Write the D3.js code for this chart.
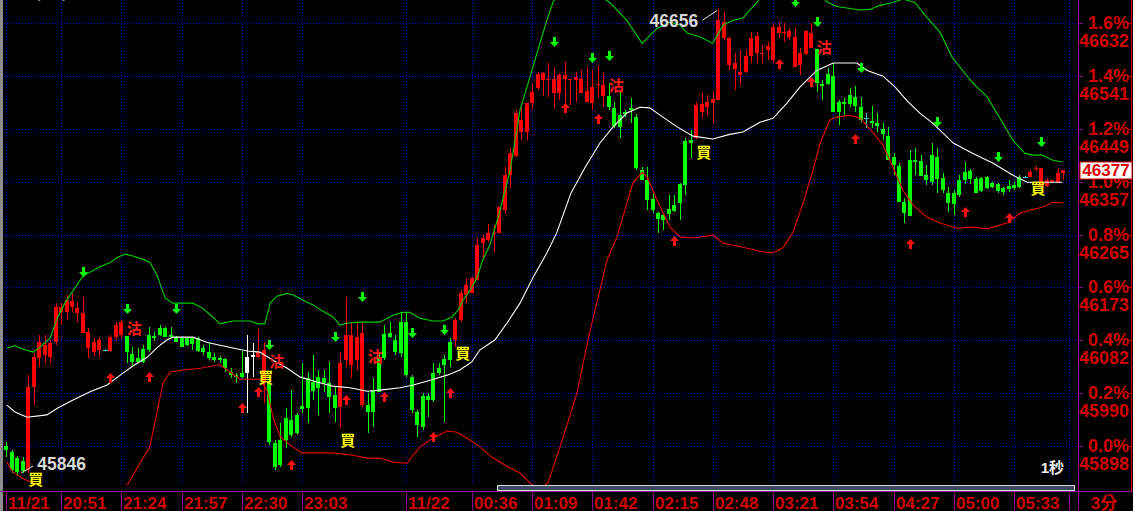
<!DOCTYPE html>
<html><head><meta charset="utf-8">
<script src="https://cdn.jsdelivr.net/npm/d3@7/dist/d3.min.js"></script>
<style>html,body{margin:0;padding:0;background:#000;overflow:hidden}svg{display:block}</style>
</head><body><svg id="c" width="1133" height="511"></svg>
<script>
const basePrice = 45898;
// bars 1..194 (3-minute bars)
const opens = [
45898,45888,45877,45872,45856,46000,46051,46056,46052,46079,
46131,46131,46139,46129,46094,46068,46061,46065,46065,46063,
46087,46091,46089,46058,46051,46066,46091,46089,46103,46103,
46091,46087,46085,46085,46085,46085,46068,46061,46052,46051,
46049,46026,46021,46025,46025,46052,46052,46007,46007,45903,
45908,45947,45943,45952,45968,46016,46009,46018,46016,46007,
45987,45966,46047,46039,46047,45969,45969,45995,46051,46092,
46094,46082,46113,46113,46018,45957,45985,45985,46025,46033,
46049,46079,46082,46117,46160,46164,46186,46250,46256,46266,
46268,46308,46368,46401,46443,46443,46493,46519,46533,46533,
46511,46511,46535,46533,46533,46511,46495,46493,46525,46505,
46505,46485,46472,46478,46485,46469,46377,46360,46327,46302,
46299,46309,46316,46353,46427,46429,46432,46478,46486,46493,
46498,46606,46559,46552,46542,46547,46575,46580,46578,46585,
46568,46615,46615,46608,46556,46559,46578,46589,46587,46526,
46544,46540,46495,46495,46507,46504,46486,46467,46462,46459,
46448,46436,46400,46384,46321,46394,46394,46393,46368,46403,
46400,46363,46337,46337,46360,46374,46375,46361,46363,46365,
46354,46353,46346,46349,46351,46365,46365,46365,46379,46347,
46349,46356,46356,46372];
const highs = [
45905,45891,45881,45879,46021,46059,46091,46091,46082,46146,
46146,46160,46164,46148,46157,46103,46085,46087,46066,46091,
46113,46117,46089,46070,46068,46073,46105,46096,46108,46105,
46105,46089,46087,46087,46087,46087,46073,46077,46059,46054,
46051,46033,46025,46063,46091,46077,46101,46079,46013,45908,
45938,45964,45995,45955,46042,46026,46056,46030,46030,46044,
46000,46061,46157,46111,46113,46113,45990,46016,46061,46108,
46113,46091,46129,46129,46021,45961,45990,45990,46042,46042,
46056,46085,46120,46169,46190,46191,46259,46264,46283,46282,
46313,46382,46415,46481,46485,46493,46528,46547,46547,46563,
46554,46545,46564,46535,46547,46551,46556,46551,46559,46545,
46528,46495,46512,46481,46502,46474,46382,46382,46337,46304,
46302,46334,46334,46354,46432,46446,46495,46511,46507,46512,
46656,46651,46608,46580,46585,46585,46616,46616,46594,46599,
46632,46634,46632,46623,46623,46589,46620,46632,46587,46533,
46554,46563,46498,46502,46519,46523,46504,46476,46488,46476,
46459,46452,46406,46389,46328,46412,46415,46403,46386,46424,
46415,46372,46347,46342,46368,46391,46379,46365,46365,46367,
46356,46354,46347,46360,46356,46368,46367,46377,46384,46380,
46363,46360,46380,46377];
const lows = [
45879,45851,45846,45851,45851,45969,46035,46042,46042,46073,
46108,46117,46131,46113,46094,46051,46054,46052,46063,46061,
46082,46085,46042,46039,46042,46042,46061,46080,46089,46087,
46085,46079,46070,46072,46065,46061,46056,46047,46044,46042,
46026,46016,46007,46016,45955,46018,46051,45973,45900,45856,
45862,45895,45914,45917,45955,45938,45978,45952,45992,45955,
45940,45931,46035,46016,46030,45966,45921,45931,45992,46047,
46085,46056,46052,46018,45955,45914,45926,45948,45974,46021,
45940,46035,46070,46113,46146,46164,46186,46224,46252,46235,
46268,46302,46346,46400,46429,46429,46481,46516,46505,46504,
46485,46498,46485,46490,46495,46511,46495,46481,46504,46486,
46481,46450,46432,46469,46459,46377,46360,46308,46302,46268,
46273,46290,46304,46290,46334,46398,46431,46467,46472,46459,
46498,46603,46550,46516,46525,46545,46563,46563,46563,46568,
46563,46606,46599,46603,46556,46542,46577,46589,46512,46498,
46525,46478,46455,46472,46486,46478,46460,46450,46450,46443,
46429,46394,46368,46321,46285,46297,46368,46367,46351,46351,
46337,46337,46304,46299,46330,46353,46353,46337,46339,46344,
46346,46337,46334,46339,46342,46346,46363,46365,46375,46347,
46347,46356,46354,46360];
const closes = [
45891,45856,45853,45855,46000,46052,46079,46073,46077,46139,
46139,46151,46150,46138,46129,46096,46079,46082,46065,46087,
46108,46113,46061,46044,46044,46044,46065,46085,46091,46087,
46087,46079,46070,46073,46075,46063,46061,46051,46047,46047,
46033,46021,46018,46018,46052,46056,46061,46065,45905,45862,
45865,45908,45917,45921,45962,45964,45994,45999,46007,45983,
45964,46042,46091,46091,46087,46094,45957,45957,45992,46051,
46087,46061,46059,46021,45961,45934,45931,45978,45978,46025,
46039,46047,46117,46164,46177,46190,46247,46259,46268,46268,
46313,46368,46406,46476,46464,46493,46512,46544,46545,46535,
46535,46542,46542,46535,46538,46535,46514,46521,46526,46525,
46486,46453,46452,46474,46481,46380,46360,46325,46308,46292,
46290,46301,46306,46320,46351,46424,46490,46491,46495,46500,
46637,46634,46606,46563,46547,46575,46606,46610,46580,46592,
46625,46625,46616,46618,46608,46580,46618,46615,46528,46523,
46526,46478,46478,46491,46491,46488,46464,46467,46459,46453,
46439,46394,46386,46321,46302,46297,46391,46367,46360,46356,
46361,46342,46320,46318,46334,46360,46361,46337,46341,46346,
46347,46341,46339,46344,46346,46347,46365,46374,46380,46380,
46360,46360,46372,46377];
const whiteBars = [45, 46];

// Bollinger bands: [bar position, price]
const upperBand = [[1.1,46068],[2.6,46072],[4.4,46065],[5.9,46061],[7.2,46070],[9.0,46085],[10.3,46120],[11.7,46146],[13.0,46165],[15.0,46193],[18.1,46209],[19.9,46216],[21.4,46226],[22.7,46231],[24.1,46228],[26.0,46222],[27.2,46217],[28.5,46195],[30.0,46155],[31.4,46146],[35.1,46146],[36.9,46137],[38.7,46122],[40.0,46110],[42.4,46115],[45.5,46115],[47.0,46110],[48.2,46110],[49.2,46146],[50.4,46158],[52.3,46163],[53.4,46160],[55.2,46151],[57.0,46143],[58.8,46132],[60.7,46122],[61.9,46108],[63.2,46111],[65.2,46113],[69.2,46113],[71.6,46125],[73.3,46130],[74.7,46130],[76.5,46120],[78.9,46115],[80.7,46115],[82.4,46122],[83.5,46134],[84.4,46151],[85.7,46169],[87.0,46191],[88.0,46221],[89.3,46247],[90.8,46295],[92.1,46342],[93.0,46377],[94.8,46481],[96.6,46538],[97.9,46580],[99.7,46637],[100.8,46668],[102.1,46689],[104.8,46700],[107.6,46689],[111.2,46668],[114.3,46637],[117.1,46597],[119.8,46623],[122.2,46634],[124.0,46629],[125.3,46615],[127.7,46608],[130.0,46597],[131.9,46629],[133.7,46637],[135.5,46641],[136.8,46655],[138.1,46668],[139.5,46689],[141.4,46705],[144.1,46733],[145.9,46720],[148.3,46703],[149.6,46682],[151.0,46668],[152.7,46661],[156.9,46655],[158.7,46656],[160.5,46663],[162.9,46668],[164.7,46674],[166.9,46668],[169.1,46642],[171.5,46616],[173.7,46573],[175.1,46556],[177.5,46528],[180.1,46504],[183.0,46458],[184.8,46429],[187.0,46406],[188.5,46403],[190.1,46403],[192.1,46394],[193.9,46391]];
const midBand = [[1.1,45969],[2.6,45957],[4.8,45948],[8.4,45952],[10.4,45964],[13.2,45978],[16.3,45992],[19.4,46004],[21.8,46021],[24.1,46037],[26.7,46052],[28.7,46070],[30.3,46082],[31.4,46087],[35.1,46087],[37.6,46078],[40.0,46073],[42.4,46068],[45.0,46063],[47.3,46061],[49.7,46047],[52.3,46033],[54.6,46018],[57.7,46009],[60.6,46002],[63.8,45999],[66.9,45993],[69.2,45995],[72.9,45999],[75.3,46004],[78.4,46012],[81.5,46021],[83.8,46030],[86.0,46044],[87.5,46065],[90.2,46082],[92.4,46111],[94.8,46146],[97.2,46191],[99.7,46233],[101.5,46268],[104.1,46337],[106.7,46382],[109.4,46424],[111.8,46452],[114.3,46476],[116.7,46486],[118.5,46485],[120.9,46469],[123.5,46452],[126.4,46436],[130.0,46431],[133.1,46439],[135.5,46443],[138.6,46460],[141.0,46467],[143.5,46493],[145.9,46521],[149.0,46550],[152.0,46563],[156.3,46563],[158.2,46550],[161.1,46540],[163.3,46521],[165.4,46498],[167.8,46476],[170.2,46458],[173.9,46424],[177.5,46406],[181.2,46389],[184.8,46368],[187.4,46356],[189.7,46356],[193.8,46356]];
const lowerBand = [[1.1,45870],[2.2,45853],[4.1,45841],[7.2,45829],[10.8,45806],[14.5,45783],[18.1,45789],[20.9,45810],[23.2,45832],[25.4,45868],[27.2,45896],[28.5,45955],[29.6,46007],[30.9,46026],[33.3,46030],[36.4,46033],[40.0,46039],[41.9,46026],[43.7,46014],[47.3,46014],[48.6,45995],[49.7,45948],[51.0,45914],[52.8,45900],[55.0,45886],[60.6,45886],[64.3,45882],[66.9,45877],[69.2,45877],[71.6,45870],[74.2,45868],[75.3,45882],[76.5,45896],[78.9,45912],[81.5,45924],[83.3,45922],[85.1,45912],[87.5,45896],[89.9,45877],[92.4,45863],[94.8,45851],[96.6,45834],[98.1,45822],[99.9,45834],[102.1,45896],[105.2,45990],[107.2,46082],[110.7,46221],[112.5,46261],[115.4,46354],[117.1,46373],[118.0,46365],[119.8,46325],[122.2,46278],[124.0,46261],[126.4,46259],[130.0,46264],[131.9,46250],[135.5,46243],[138.6,46236],[141.0,46233],[142.8,46242],[144.6,46268],[146.5,46320],[148.3,46377],[149.6,46424],[151.4,46464],[152.7,46469],[155.0,46472],[156.9,46467],[159.2,46443],[161.1,46420],[162.9,46382],[164.7,46342],[166.6,46316],[169.1,46295],[171.5,46285],[174.6,46276],[177.5,46278],[180.1,46275],[183.7,46285],[186.1,46302],[188.5,46309],[190.3,46313],[192.1,46321],[194.0,46320]];

const timeTickBars = [1,11,22,33,44,55,74,86,97,108,119,130,141,152,163,174,185,195];
const timeTickLabels = ["11/21","20:51","21:24","21:57","22:30","23:03","11/22","00:36","01:09","01:42","02:15","02:48","03:21","03:54","04:27","05:00","05:33",""];
const pctTicks = [0,0.2,0.4,0.6,0.8,1.0,1.2,1.4,1.6];

// signals: [bar, price of arrow tip]
const sellArrows = [[15,46191],[23,46127],[32,46127],[49,46065],[61,46079],[66,46148],[75,46085],[81,46091],[101,46590],[108,46563],[111,46566],[145,46660],[149,46625],[157,46545],[171,46452],[182,46391],[190,46417]];
const buyArrows = [[20,46025],[27,46026],[44,45973],[47,46000],[53,45874],[63,45987],[70,45992],[79,45922],[82,45999],[103,46493],[109,46474],[123,46262],[142,46570],[148,46538],[156,46439],[166,46257],[176,46313],[184,46302]];
const buyMarks = [[6,45841],[48,46018],[63,45910],[84,46061],[128,46410],[189,46346]];
const sellMarks = [[24,46104],[50,46046],[68,46055],[112,46526],[150,46591]];
const lastPrice = 46377;
const periodLabel = "3分";
const tickLabel = "1秒";

const svg = d3.select('#c');
svg.append('rect').attr('width',1133).attr('height',511).attr('fill','#000');
const x = d3.scaleLinear().domain([0,194]).range([0.8,1063.3]);
const y = d3.scaleLinear().domain([basePrice, basePrice*1.016]).range([446,23]);

svg.append('defs').append('clipPath').attr('id','plot')
  .append('rect').attr('x',4).attr('y',0).attr('width',1074).attr('height',485);

// grid
const grid = svg.append('g').attr('shape-rendering','crispEdges');
pctTicks.forEach(p=>{
  const yy = Math.round(y(basePrice*(1+p/100)))+0.5;
  grid.append('line').attr('x1',4).attr('x2',1078).attr('y1',yy).attr('y2',yy)
    .attr('stroke','#0000d8').attr('stroke-dasharray','1,2');
});
timeTickBars.forEach(b=>{
  const xx = Math.round(x(b))+0.5;
  grid.append('line').attr('x1',xx).attr('x2',xx).attr('y1',0).attr('y2',485)
    .attr('stroke','#0000d8').attr('stroke-dasharray','1,2');
});

const plot = svg.append('g').attr('clip-path','url(#plot)');

// candles
const bars = d3.range(1,195).map(i=>({i,o:opens[i-1],h:highs[i-1],l:lows[i-1],c:closes[i-1]}));
const colorOf = d => whiteBars.includes(d.i) ? '#ffffff' : d.c>d.o ? '#ff0000' : d.c<d.o ? '#00ff00' : '#40d0c0';
const cg = plot.append('g').attr('shape-rendering','crispEdges');
cg.selectAll('line.w').data(bars).join('line').attr('class','w')
  .attr('x1',d=>Math.round(x(d.i))+0.5).attr('x2',d=>Math.round(x(d.i))+0.5)
  .attr('y1',d=>y(d.h)).attr('y2',d=>y(d.l)).attr('stroke',colorOf);
cg.selectAll('rect.b').data(bars).join('rect').attr('class','b')
  .attr('x',d=>Math.round(x(d.i))-2).attr('width',d=>d.o===d.c?5:4)
  .attr('y',d=>Math.min(y(d.o),y(d.c)))
  .attr('height',d=>Math.max(1,Math.abs(y(d.o)-y(d.c))))
  .attr('fill',colorOf);

// bands
const line = d3.line().x(d=>x(d[0])).y(d=>y(d[1]));
plot.append('path').attr('d',line(upperBand)).attr('fill','none').attr('stroke','#00d000').attr('stroke-width',1.1);
plot.append('path').attr('d',line(midBand)).attr('fill','none').attr('stroke','#ffffff').attr('stroke-width',1.1);
plot.append('path').attr('d',line(lowerBand)).attr('fill','none').attr('stroke','#e80000').attr('stroke-width',1.1);

// arrows
const ag = plot.append('g');
sellArrows.forEach(([b,p])=>{
  const cx = Math.round(x(b))+0.5, t = Math.round(y(p));
  ag.append('path').attr('d',`M${cx-1.5},${t-10}H${cx+1.5}V${t-5}H${cx+4.5}L${cx},${t}L${cx-4.5},${t-5}H${cx-1.5}Z`).attr('fill','#00ff00');
});
buyArrows.forEach(([b,p])=>{
  const cx = Math.round(x(b))+0.5, t = Math.round(y(p));
  ag.append('path').attr('d',`M${cx},${t}L${cx+4.5},${t+5}H${cx+1.5}V${t+10}H${cx-1.5}V${t+5}H${cx-4.5}Z`).attr('fill','#ff1010');
});

// buy / sell marks
const mg = svg.append('g').attr('font-family','"Noto Sans CJK TC","Noto Sans CJK SC",sans-serif')
  .attr('font-size',15).attr('font-weight','bold').attr('text-anchor','middle').attr('dominant-baseline','central');
buyMarks.forEach(([b,p])=>mg.append('text').attr('x',x(b)+2).attr('y',y(p)).attr('fill','#ffff00').text('買'));
sellMarks.forEach(([b,p])=>mg.append('text').attr('x',x(b)+2).attr('y',y(p)).attr('fill','#ff1a1a').text('沽'));

// extreme annotations
const hiIdx = d3.maxIndex(highs), loIdx = d3.minIndex(lows);
const hx = x(hiIdx+1), hy = y(highs[hiIdx]);
svg.append('line').attr('x1',hx-16).attr('y1',hy+11).attr('x2',hx-1).attr('y2',hy+1).attr('stroke','#e0e0e0');
svg.append('text').attr('x',hx-20).attr('y',hy+18).attr('text-anchor','end')
  .attr('font-family','"Liberation Sans",Arial,sans-serif').attr('font-weight','bold').attr('font-size',17.5)
  .attr('fill','#d8d8d8').text(highs[hiIdx]);
const lx = x(loIdx+1), ly = y(lows[loIdx]);
svg.append('line').attr('x1',lx+4).attr('y1',ly-3).attr('x2',lx+16).attr('y2',ly-10).attr('stroke','#e0e0e0');
svg.append('text').attr('x',lx+20).attr('y',ly-6)
  .attr('font-family','"Liberation Sans",Arial,sans-serif').attr('font-weight','bold').attr('font-size',17.5)
  .attr('fill','#d8d8d8').text(lows[loIdx]);

// top-left title (mostly off-canvas)
svg.append('text').attr('x',35).attr('y',-2).attr('font-family','"Liberation Sans",sans-serif')
  .attr('font-size',16).attr('fill','#bbbbbb').text('( ,  , )');

// left grey bar
svg.append('rect').attr('x',0).attr('y',0).attr('width',3).attr('height',511).attr('fill','#8c8c8c');

// scrollbar
svg.append('rect').attr('x',497.5).attr('y',485.5).attr('width',577).attr('height',5)
  .attr('fill','#3c4a60').attr('stroke','#d8d8d8').attr('stroke-width',1);

// axes frame
const ax = svg.append('g').attr('shape-rendering','crispEdges');
ax.append('line').attr('x1',0).attr('x2',1133).attr('y1',491.5).attr('y2',491.5).attr('stroke','#900090');
ax.append('line').attr('x1',1078.5).attr('x2',1078.5).attr('y1',0).attr('y2',511).attr('stroke','#900090');
ax.append('line').attr('x1',1131.5).attr('x2',1131.5).attr('y1',0).attr('y2',491).attr('stroke','#e00000');
timeTickBars.forEach((b,k)=>{
  const xx = Math.round(x(b))+0.5;
  ax.append('line').attr('x1',xx).attr('x2',xx).attr('y1',491).attr('y2',511).attr('stroke','#900090');
});

// time labels
const tg = svg.append('g').attr('font-family','"Liberation Sans",Arial,sans-serif').attr('font-weight','bold')
  .attr('font-size',17).attr('fill','#d00000');
timeTickBars.forEach((b,k)=>{
  if(timeTickLabels[k]) tg.append('text').attr('x',Math.round(x(b))+2).attr('y',509).text(timeTickLabels[k]);
});
tg.append('text').attr('x',1104).attr('y',509).attr('text-anchor','middle')
  .attr('font-family','"Liberation Sans","Noto Sans CJK TC",sans-serif').text(periodLabel);

// right axis
const rg = svg.append('g').attr('font-family','"Liberation Sans",Arial,sans-serif').attr('font-weight','bold')
  .attr('font-size',18).attr('fill','#d00000').attr('text-anchor','end');
pctTicks.forEach(p=>{
  const pr = basePrice*(1+p/100), yy = Math.round(y(pr));
  ax.append('line').attr('x1',1078).attr('x2',1083).attr('y1',yy+0.5).attr('y2',yy+0.5).attr('stroke','#900090');
  ax.append('line').attr('x1',1127).attr('x2',1131).attr('y1',yy+0.5).attr('y2',yy+0.5).attr('stroke','#e00000');
  rg.append('text').attr('x',1129).attr('y',yy+6).text(p.toFixed(1)+'%');
  rg.append('text').attr('x',1129).attr('y',yy+24).text(Math.round(pr));
});

// last price box
const lpY = y(lastPrice);
svg.append('rect').attr('x',1080).attr('y',Math.round(lpY)-8).attr('width',52).attr('height',17)
  .attr('fill','#ffffff').attr('stroke','#e00000');
svg.append('text').attr('x',1106).attr('y',Math.round(lpY)+6).attr('text-anchor','middle')
  .attr('font-family','"Liberation Sans",Arial,sans-serif').attr('font-weight','bold').attr('font-size',17)
  .attr('fill','#e00000').text(lastPrice);

// tick-size label
svg.append('text').attr('x',1064).attr('y',473).attr('text-anchor','end')
  .attr('font-family','"Liberation Sans","Noto Sans CJK TC",sans-serif').attr('font-weight','bold')
  .attr('font-size',15).attr('fill','#eeeeee').text(tickLabel);
</script></body></html>
